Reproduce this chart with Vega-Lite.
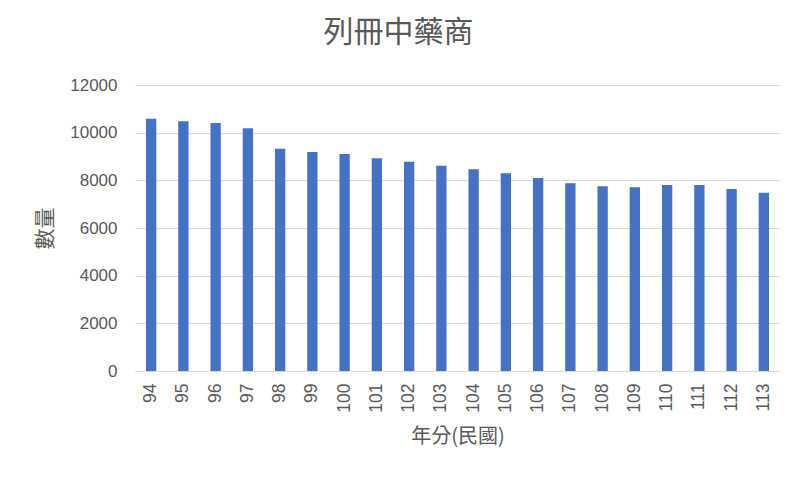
{
  "$schema": "https://vega.github.io/schema/vega-lite/v6.json",
  "autosize": {"type": "none"},
  "width": 645,
  "height": 286,
  "padding": {"left": 135, "top": 85, "right": 20, "bottom": 109},
  "background": "white",
  "title": {
    "text": "列冊中藥商",
    "font": "Noto Sans CJK TC",
    "fontSize": 30,
    "fontWeight": "normal",
    "color": "#595959",
    "offset": 28,
    "dx": -59
  },
  "data": {
    "values": [
      {"year": "94", "count": 10580},
      {"year": "95", "count": 10480},
      {"year": "96", "count": 10410},
      {"year": "97", "count": 10185},
      {"year": "98", "count": 9330},
      {"year": "99", "count": 9190},
      {"year": "100", "count": 9105},
      {"year": "101", "count": 8925},
      {"year": "102", "count": 8780},
      {"year": "103", "count": 8615},
      {"year": "104", "count": 8460},
      {"year": "105", "count": 8295},
      {"year": "106", "count": 8100},
      {"year": "107", "count": 7875},
      {"year": "108", "count": 7750},
      {"year": "109", "count": 7705},
      {"year": "110", "count": 7800},
      {"year": "111", "count": 7800},
      {"year": "112", "count": 7635},
      {"year": "113", "count": 7480}
    ]
  },
  "mark": {"type": "bar", "color": "#4472C4"},
  "encoding": {
    "x": {
      "field": "year",
      "type": "ordinal",
      "sort": null,
      "scale": {"paddingInner": 0.68, "paddingOuter": 0.34},
      "axis": {
        "title": "年分(民國)",
        "titleFont": "Noto Sans CJK TC",
        "titleFontSize": 20,
        "titleFontWeight": "normal",
        "titleColor": "#595959",
        "titlePadding": 14,
        "labelAngle": -90,
        "labelFont": "Liberation Sans",
        "labelFontSize": 17.5,
        "labelColor": "#595959",
        "labelPadding": 12,
        "ticks": false,
        "domainColor": "#d9d9d9",
        "domainWidth": 1
      }
    },
    "y": {
      "field": "count",
      "type": "quantitative",
      "scale": {"domain": [0, 12000]},
      "axis": {
        "title": "數量",
        "titleFont": "Noto Sans CJK TC",
        "titleFontSize": 21,
        "titleFontWeight": "normal",
        "titleColor": "#595959",
        "titlePadding": 14,
        "values": [0, 2000, 4000, 6000, 8000, 10000, 12000],
        "format": "d",
        "labelFont": "Liberation Sans",
        "labelFontSize": 17,
        "labelColor": "#595959",
        "labelPadding": 18,
        "ticks": false,
        "domain": false,
        "gridColor": "#d9d9d9",
        "gridWidth": 1
      }
    }
  },
  "config": {"view": {"stroke": null}}
}
